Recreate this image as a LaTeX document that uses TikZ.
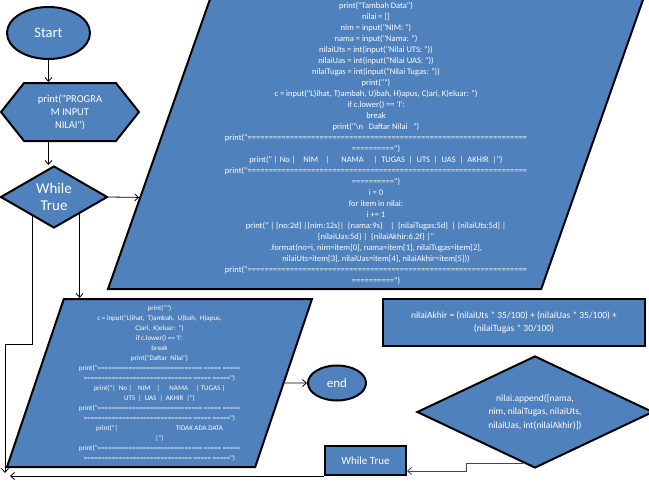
\documentclass[tikz,border=0pt]{standalone}
\usepackage{fontspec}
\setmainfont{Carlito}[Ligatures=TeXOff]
\usetikzlibrary{shapes.geometric, shapes.symbols, arrows.meta, positioning, calc}
\definecolor{cBlue}{RGB}{79,129,189}
\definecolor{cGrey}{RGB}{70,70,70}
\newcommand{\codebig}{\fontsize{8.5}{11}\selectfont}
\newcommand{\codesmall}{\fontsize{7}{10}\selectfont}
\tikzset{
	startstop/.style={ellipse, draw=black, line width=2pt, fill=cBlue, text=white, inner sep=0pt, align=center},
	prep/.style     ={signal, signal to=west and east, signal pointer angle=103, draw=black, line width=2pt, fill=cBlue, text=white, inner sep=0pt, align=center},
	decision/.style ={diamond, draw=black, line width=2pt, fill=cBlue, text=white, inner sep=0pt, align=center},
	io/.style       ={trapezium, trapezium left angle=70, trapezium right angle=110, trapezium stretches body, draw=black, line width=2pt, fill=cBlue, text=white, inner sep=0pt, align=center},
	process/.style  ={rectangle, draw=black, line width=2pt, fill=cBlue, text=white, inner sep=0pt, align=center},
	flowarrow/.style={-{Straight Barb[length=4pt, width=7pt]}, line width=0.8pt},
	backarrow/.style={-{Straight Barb[length=4pt, width=7pt]}, line width=0.8pt, draw=cGrey},
}

\begin{document}
\begin{tikzpicture}[x=1pt, y=-1pt]
	\useasboundingbox (0,0) rectangle (649,483);
	\node[startstop, minimum width=83pt, minimum height=52pt, font=\fontsize{14.5}{17}\selectfont] (start) at (48.5,33) {Start};
	\node[prep, minimum width=138pt, minimum height=58pt, font=\fontsize{10.5}{13}\selectfont] (prog) at (70,112) {print("PROGRA\\ M INPUT\\ NILAI")};
	\node[decision, aspect=1.7, minimum width=107pt, minimum height=62pt, font=\fontsize{15}{17.5}\selectfont] (loop) at (54,197) {While\\ True};
	\node[io, minimum width=536pt, minimum height=292pt, font=\codebig] (input) at (376,143) {print("Tambah Data")\\
		nilai = []\\
		nim = input("NIM: ")\\
		nama = input("Nama: ")\\
		nilaiUts = int(input("Nilai UTS: "))\\
		nilaiUas = int(input("Nilai UAS: "))\\
		nilaiTugas = int(input("Nilai Tugas: "))\\
		print("")\\
		c = input("L)ihat, T)ambah, U)bah, H)apus, C)ari, K)eluar: ")\\
		if c.lower() == 'l':\\
		break\\
		print("\textbackslash n~~~Daftar Nilai~~~")\\
		print("==================================================================\\
		==========")\\
		print("~|~No~|~~~~NIM~~~~|~~~~~~NAMA~~~~~|~~TUGAS~~|~~UTS~~|~~UAS~~|~~AKHIR~~|")\\
		print("==================================================================\\
		==========")\\
		i = 0\\
		for item in nilai:\\
		i += 1\\
		print("~|~\{no:2d\}~|\{nim:12s\}|~~\{nama:9s\}~~~~|~~\{nilaiTugas:5d\}~~|~\{nilaiUts:5d\}~|\\
		\{nilaiUas:5d\}~|~~\{nilaiAkhir:6.2f\}~|"\\
		.format(no=i, nim=item[0], nama=item[1], nilaiTugas=item[2],\\
		nilaiUts=item[3], nilaiUas=item[4], nilaiAkhir=item[5]))\\
		print("==================================================================\\
		==========")};
	\node[io, minimum width=305pt, minimum height=168pt, font=\codesmall] (menu) at (159.5,383) {print("")\\
		c = input("L)ihat,~~T)ambah,~~U)bah,~~H)apus,\\
		C)ari,~~K)eluar:~~")\\
		if c.lower() == 'l':\\
		break\\
		print("Daftar~~Nilai")\\
		print("==============================~=====~=====\\
		===============================~=====~=====")\\
		print("|~~No~|~~~~NIM~~~~|~~~~~~NAMA~~~~~|~TUGAS~|\\
		UTS~~|~~UAS~~|~~AKHIR~~|")\\
		print("==============================~=====~=====\\
		===============================~=====~=====")\\
		print("|\hspace{58pt}TIDAK ADA DATA\\
		|")\\
		print("==============================~=====~=====\\
		===============================~=====~=====")};
	\node[startstop, minimum width=58pt, minimum height=35pt, font=\fontsize{13}{15}\selectfont] (finish) at (337,383) {end};
	\node[process, minimum width=262pt, minimum height=47pt, font=\fontsize{9.5}{12.5}\selectfont] (akhir) at (514,322.5) {nilaiAkhir = (nilaiUts * 35/100) + (nilaiUas * 35/100) +\\ (nilaiTugas * 30/100)};
	\node[decision, aspect=2.1, minimum width=236pt, minimum height=112pt, font=\fontsize{9.5}{13.5}\selectfont] (append) at (535,412) {nilai.append([nama,\\ nim, nilaiTugas, nilaiUts,\\ nilaiUas, int(nilaiAkhir)])};
	\node[process, minimum width=81pt, minimum height=29pt, font=\fontsize{11}{13}\selectfont] (again) at (365.5,460.5) {While True};
	% connectors
	\coordinate (loopin) at ($(input.bottom left corner)!0.315!(input.top left corner)$);
	\coordinate (loopR) at ($(loop.south)!0.47!(loop.east)$);
	\coordinate (loopL) at ($(loop.south)!0.4!(loop.west)$);
	\coordinate (exitbend) at (5,344);
	\coordinate (exitend) at (5,473);
	\coordinate (appout) at ($(append.south)!0.1!(append.west)$);
	\coordinate (appbend) at (466,471);
	\coordinate (loopback) at (10,476);
	\draw[flowarrow] (start.south) -- (start.south |- prog.north);
	\draw[flowarrow] (prog.south -| start.south) -- (start.south |- loop.north);
	\draw[flowarrow] (loop.east) -- (loopin);
	\draw[flowarrow] (loopR) -- (loopR |- menu.north);
	\draw[flowarrow] (loopL) |- (exitbend) -- (exitend);
	\draw[flowarrow] (menu) -- (finish);
	\draw[backarrow] (appout) -| (appbend) -- (appbend -| again.east);
	\draw[flowarrow] (again.south west) -- (again.south west -| loopback);
\end{tikzpicture}
\end{document}
